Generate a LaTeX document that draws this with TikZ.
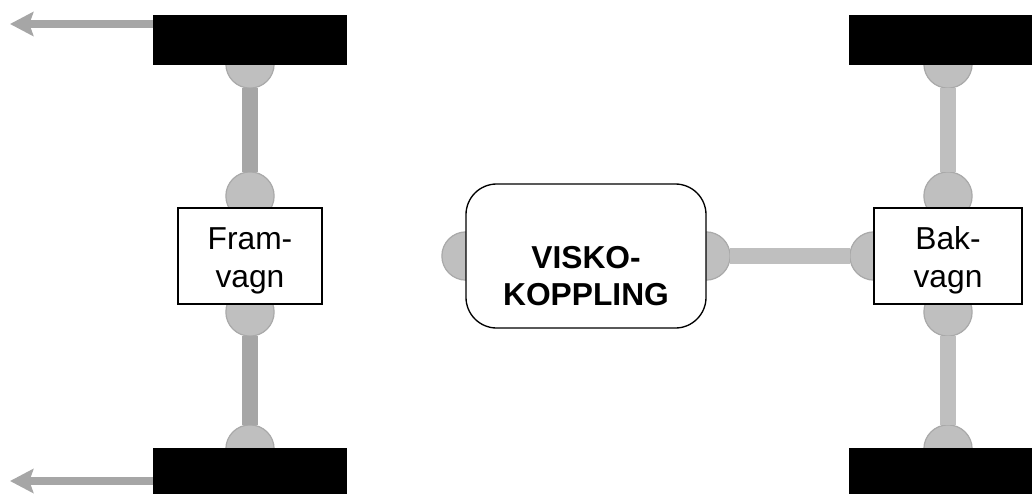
\documentclass[tikz,border=0pt]{standalone}
\usepackage{fontspec}
\setmainfont{Liberation Sans}
\usetikzlibrary{arrows.meta}
\definecolor{darkshaft}{HTML}{A6A6A6}
\definecolor{lightshaft}{HTML}{BFBFBF}
\definecolor{jointfill}{HTML}{BFBFBF}
\definecolor{jointline}{HTML}{A9A9A9}
\tikzset{
  x=0.75pt,y=-0.75pt,
  joint/.style={circle,draw=jointline,fill=jointfill,line width=0.9pt,minimum size=36.2pt,inner sep=0pt,outer sep=0pt},
  wheel/.style={rectangle,fill=black,draw=none,minimum width=145.5pt,inner sep=0pt,outer sep=0pt},
  cartbox/.style={rectangle,draw=black,fill=white,line width=1pt,inner sep=0pt,outer sep=0pt,minimum height=72pt,align=center,font=\fontsize{23.8}{28.5}\selectfont},
  couplingbox/.style={rectangle,rounded corners=23pt,draw=black,fill=white,line width=1pt,inner sep=0pt,outer sep=0pt,minimum width=180pt,minimum height=108pt,align=center,font=\fontsize{23.8}{27.5}\selectfont\bfseries},
  darkbar/.style={draw=darkshaft,line width=12pt},
  lightbar/.style={draw=lightshaft,line width=12pt},
  pull/.style={draw=darkshaft,line width=6pt,-{Stealth[length=17.5pt,width=18pt,inset=3pt,fill=darkshaft]}},
}
\begin{document}
\begin{tikzpicture}
\useasboundingbox (0,0) rectangle (1032,494);
% joints
\node[joint] (fa) at (250,64) {};
\node[joint] (fb) at (250,196) {};
\node[joint] (fc) at (250,312) {};
\node[joint] (fd) at (250,449) {};
\node[joint] (ba) at (948,64) {};
\node[joint] (bb) at (948,196) {};
\node[joint] (bc) at (948,312) {};
\node[joint] (bd) at (948,449) {};
\node[joint] (vl) at (466,256) {};
\node[joint] (vr) at (706,256) {};
\node[joint] (bl) at (874,256) {};
% shafts
\begin{scope}
\draw[darkbar] (fa) -- (fb);
\draw[darkbar] (fc) -- (fd);
\draw[lightbar] (ba) -- (bb);
\draw[lightbar] (bc) -- (bd);
\draw[lightbar] (vr) -- (bl);
\end{scope}
% wheels
\node[wheel,minimum height=37.5pt] (wfl) at (250,40) {};
\node[wheel,minimum height=34.5pt] (wfr) at (250,471) {};
\node[wheel,minimum height=37.5pt,minimum width=137.5pt] (wbl) at (940.5,40) {};
\node[wheel,minimum height=34.5pt,minimum width=137.5pt] (wbr) at (940.5,471) {};
% force arrows
\coordinate (t1) at (10,24);
\coordinate (t2) at (10,481);
\draw[pull] (wfl.west |- t1) -- (t1);
\draw[pull] (wfr.west |- t2) -- (t2);
% boxes
\node[cartbox,minimum width=108pt] (fram) at (250,256) {\rule{0pt}{24pt}Fram-\\vagn};
\node[cartbox,minimum width=111pt] (bak) at (948,256) {\rule{0pt}{24pt}Bak-\\vagn};
\node[couplingbox] (visko) at (586,256) {\rule{0pt}{47pt}VISKO-\\KOPPLING};
\end{tikzpicture}
\end{document}
